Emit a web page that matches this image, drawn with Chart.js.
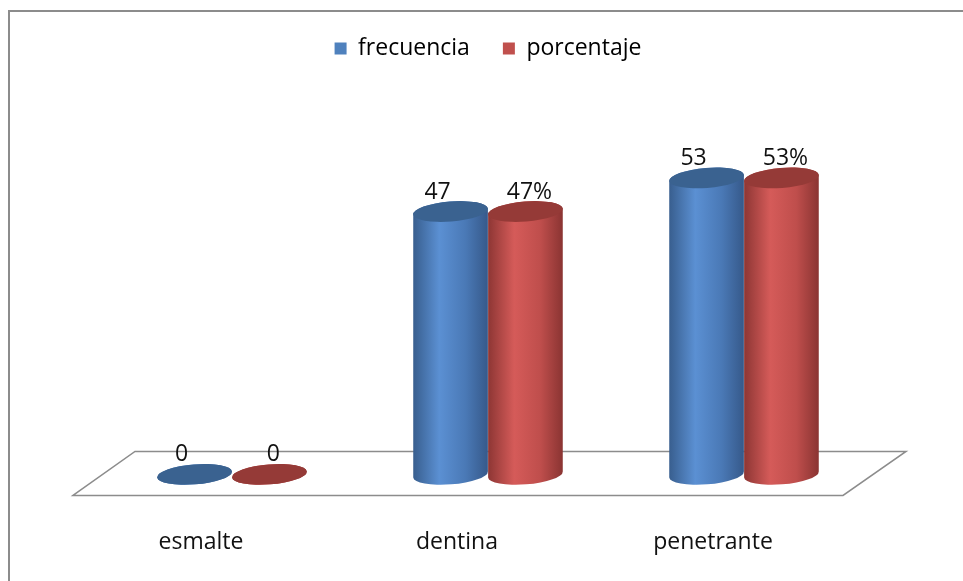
<!DOCTYPE html>
<html>
<head>
<meta charset="utf-8">
<script src="https://cdn.jsdelivr.net/npm/chart.js@4"></script>
<style>
  html, body { margin: 0; padding: 0; background: #fff; overflow: hidden; }
  canvas { display: block; }
</style>
</head>
<body>
<canvas id="canvas" width="963" height="581"></canvas>
<script>
// data
var categories = ['esmalte', 'dentina', 'penetrante'];
var frecuencia = [0, 47, 53];
var porcentaje = [0, 47, 53];
var seriesNames = ['frecuencia', 'porcentaje'];
var suffixes = ['', '%'];

var flatColors = ['#4F81BD', '#C0504D'];
// dark edge, highlight, mid, dark edge, top cap
var shades = [
  ['#385e8e', '#5b90d3', '#4a79b6', '#36598a', '#3a6290'],
  ['#8d3634', '#d55b59', '#bf4e4c', '#8a3432', '#953a37']
];

var FONT = '"Open Sans", sans-serif';
var TILT = -0.08;

// frame + floor, then cylinders, then value labels
var cylinders = {
  id: 'cylinders',
  beforeDraw: function (chart) {
    var c = chart.ctx;
    c.save();
    c.strokeStyle = '#8c8c8c';
    c.lineWidth = 2;
    c.strokeRect(9, 11, 1000, 700);
    c.restore();
  },
  beforeDatasetsDraw: function (chart) {
    var c = chart.ctx;
    var a = chart.chartArea;
    var y0 = chart.scales.y.getPixelForValue(0);
    c.save();
    c.beginPath();
    c.moveTo(a.left - 31, y0 + 21);
    c.lineTo(a.left + 31, y0 - 23);
    c.lineTo(a.right + 34, y0 - 23);
    c.lineTo(a.right - 29, y0 + 21);
    c.closePath();
    c.fillStyle = '#fff';
    c.fill();
    c.strokeStyle = '#8c8c8c';
    c.lineWidth = 1.5;
    c.stroke();
    c.restore();
  },
  afterDatasetsDraw: function (chart) {
    var c = chart.ctx;
    chart.data.datasets.forEach(function (ds, di) {
      var meta = chart.getDatasetMeta(di);
      var s = shades[di];
      meta.data.forEach(function (el, i) {
        var rx = el.width / 2;
        var ry = 10;
        var top = el.y;
        var base = el.base;
        c.save();
        var g = c.createLinearGradient(el.x - rx, 0, el.x + rx, 0);
        g.addColorStop(0, s[0]);
        g.addColorStop(0.35, s[1]);
        g.addColorStop(0.7, s[2]);
        g.addColorStop(1, s[3]);
        c.beginPath();
        c.ellipse(el.x, top, rx, ry, TILT, Math.PI, 2 * Math.PI, false);
        c.ellipse(el.x, base, rx, ry, TILT, 0, Math.PI, false);
        c.closePath();
        c.fillStyle = g;
        c.fill();
        c.beginPath();
        c.ellipse(el.x, top, rx, ry, TILT, 0, 2 * Math.PI);
        c.fillStyle = s[4];
        c.fill();
        c.restore();

        // value label
        var v = ds.data[i];
        c.save();
        c.font = '23px ' + FONT;
        c.fillStyle = '#111';
        c.textAlign = 'center';
        c.textBaseline = 'alphabetic';
        var dx = di === 0 ? -13 : 4;
        c.fillText(v + (v === 0 ? '' : suffixes[di]), el.x + dx, top - 13);
        c.restore();
      });
    });
  }
};

new Chart(document.getElementById('canvas'), {
  type: 'bar',
  data: {
    labels: categories,
    datasets: [
      {
        label: seriesNames[0],
        data: frecuencia,
        backgroundColor: 'rgba(0,0,0,0)',
        borderWidth: 0,
        categoryPercentage: 0.585,
        barPercentage: 1.0
      },
      {
        label: seriesNames[1],
        data: porcentaje,
        backgroundColor: 'rgba(0,0,0,0)',
        borderWidth: 0,
        categoryPercentage: 0.585,
        barPercentage: 1.0
      }
    ]
  },
  options: {
    responsive: false,
    animation: false,
    layout: {
      padding: { left: 104, right: 91, top: 4, bottom: -29 }
    },
    plugins: {
      tooltip: { enabled: false },
      legend: {
        position: 'top',
        labels: {
          font: { family: FONT, size: 23 },
          color: '#222',
          boxWidth: 12,
          boxHeight: 12,
          padding: 33,
          generateLabels: function (chart) {
            return chart.data.datasets.map(function (d, i) {
              return {
                text: d.label,
                fillStyle: flatColors[i],
                strokeStyle: flatColors[i],
                lineWidth: 0,
                datasetIndex: i
              };
            });
          }
        }
      }
    },
    scales: {
      x: {
        grid: { display: false, drawTicks: false },
        border: { display: false },
        ticks: {
          font: { family: FONT, size: 23 },
          color: '#111',
          padding: 54,
          labelOffset: -31
        }
      },
      y: {
        display: false,
        min: 0,
        max: 72.3
      }
    }
  },
  plugins: [cylinders]
});
</script>
</body>
</html>
